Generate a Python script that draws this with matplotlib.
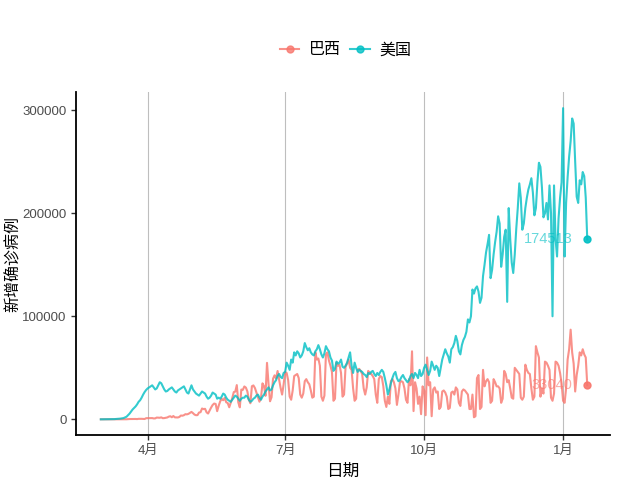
import datetime as dt
import numpy as np
import pandas as pd
import matplotlib
matplotlib.use("Agg")
import matplotlib.pyplot as plt
import matplotlib.dates as mdates
from matplotlib.lines import Line2D

plt.rcParams['font.family'] = ['Liberation Sans', 'Noto Sans CJK SC', 'DejaVu Sans']

# daily new cases, 2020-03-01 .. 2021-01-17
start_date = "2020-03-01"
countries = ["巴西", "美国"]

brazil_cases = [
    # Mar
    0, 0, 0, 0, 1, 5, 5, 6, 5, 9, 15, 25, 75, 21, 40, 60, 90, 60, 190, 280, 300,
    230, 400, 340, 230, 480, 500, 480, 350, 320, 1100,
    # Apr
    1100, 1200, 1100, 1200, 850, 900, 1700, 1600, 1500, 1900, 1100, 1200, 1500, 1800, 2600,
    3000, 2000, 3200, 1900, 1900, 1800, 2300, 3700, 3500, 4000, 5000, 4800, 5300, 6300, 7200,
    # May
    6000, 4600, 4000, 4100, 6600, 6900, 10500, 9900, 10200, 6800, 5600, 8600, 11400, 13900, 15300,
    14900, 7900, 13100, 17400, 19900, 18500, 20800, 16500, 15800, 11700, 16300, 20600, 26400,
    26900, 33200, 16400,
    # Jun
    11600, 28900, 28600, 31900, 30800, 27100, 18900, 15600, 32100, 32900, 30400, 25900, 21700,
    17100, 20600, 34900, 32200, 22800, 54800, 34700, 17500, 21400, 39400, 42700, 39500, 46900,
    38700, 30500, 24000, 33800,
    # Jul
    46000, 45000, 38000, 22000, 19000, 28000, 42000, 43000, 44000, 40000, 24000, 21000, 25000,
    37000, 39000, 36000, 34000, 28000, 21000, 22000, 65000, 58000, 59000, 52000, 22000, 18000,
    23000, 63000, 65000, 57000, 52000,
    # Aug
    46000, 18000, 20000, 55000, 52000, 53000, 45000, 22000, 24000, 51000, 54000, 58000, 50000,
    48000, 30000, 18000, 20000, 48000, 49000, 47000, 44000, 30000, 24000, 31000, 47000, 45000,
    44000, 42000, 39000, 24000, 16000,
    # Sep
    39000, 42000, 41000, 32000, 18000, 12000, 22000, 15000, 37000, 39000, 36000, 30000, 14000,
    24000, 36000, 37000, 36000, 30000, 19000, 16000, 39000, 33000, 66000, 8000, 36000, 30000,
    15000, 22000, 5000, 32000,
    # Oct
    28000, 4000, 60000, 33000, 36000, 3000, 29000, 31000, 26000, 27000, 10000, 12000, 27000,
    28000, 26000, 22000, 10000, 11000, 26000, 27000, 24000, 31000, 29000, 16000, 13000, 27000,
    29000, 28000, 26000, 24000, 10000,
    # Nov
    10000, 24000, 2000, 3000, 40000, 43000, 10000, 12000, 48000, 32000, 37000, 39000, 36000,
    16000, 18000, 39000, 36000, 32000, 32000, 30000, 16000, 20000, 47000, 44000, 36000, 38000,
    30000, 21000, 20000, 50000,
    # Dec
    48000, 46000, 44000, 21000, 19000, 22000, 53000, 48000, 45000, 44000, 30000, 19000, 22000,
    71000, 65000, 60000, 22000, 30000, 25000, 56000, 55000, 52000, 48000, 21000, 18000, 25000,
    56000, 55000, 52000, 45000, 35000,
    # Jan
    18000, 16000, 30000, 58000, 68000, 87000, 65000, 54000, 27000, 43000, 52000, 65000, 62000,
    68000, 63000, 60000, 33040,
]

us_cases = [
    # Mar
    5, 20, 25, 30, 70, 60, 100, 120, 150, 200, 300, 400, 500, 700, 900, 1200, 1800, 2500,
    4000, 5500, 7500, 9500, 11000, 12500, 14500, 17000, 18500, 21000, 24000, 26500, 28500,
    # Apr
    30000, 31000, 32000, 33000, 31000, 29000, 30000, 33000, 36000, 35000, 32000, 29000, 27000,
    27500, 29000, 30000, 31000, 29000, 27000, 26000, 28000, 29000, 30000, 31000, 32000, 29000,
    26000, 25000, 29000, 33000,
    # May
    29000, 27000, 25000, 24000, 23000, 25000, 27000, 26000, 25000, 22000, 20000, 21000, 23000,
    26000, 25000, 24000, 20000, 21000, 20000, 22000, 25000, 24000, 21000, 19000, 18000, 17000,
    19000, 21000, 23000, 22000, 20000,
    # Jun
    18000, 20000, 21000, 21000, 23000, 22000, 19000, 17000, 18000, 20000, 21000, 23000, 24000,
    21000, 19000, 22000, 24000, 27000, 29000, 31000, 28000, 29000, 33000, 36000, 38000, 42000,
    44000, 41000, 40000, 45000,
    # Jul
    46000, 55000, 52000, 48000, 58000, 55000, 65000, 62000, 66000, 64000, 60000, 62000, 66000,
    74000, 70000, 67000, 69000, 65000, 63000, 62000, 66000, 68000, 72000, 68000, 63000, 60000,
    64000, 71000, 68000, 66000, 60000,
    # Aug
    57000, 47000, 49000, 56000, 54000, 55000, 58000, 51000, 50000, 52000, 55000, 60000, 65000,
    52000, 45000, 55000, 50000, 46000, 48000, 47000, 46000, 44000, 43000, 41000, 45000, 44000,
    46000, 47000, 44000, 42000, 45000,
    # Sep
    43000, 46000, 48000, 46000, 40000, 33000, 24000, 29000, 35000, 40000, 44000, 46000, 40000,
    37000, 38000, 41000, 43000, 40000, 38000, 36000, 38000, 42000, 44000, 40000, 45000, 43000,
    40000, 48000, 42000, 44000,
    # Oct
    50000, 53000, 48000, 43000, 47000, 56000, 52000, 48000, 52000, 50000, 42000, 50000, 58000,
    63000, 68000, 64000, 61000, 55000, 68000, 70000, 74000, 81000, 76000, 66000, 63000, 72000,
    77000, 80000, 85000, 97000, 94000,
    # Nov
    100000, 126000, 122000, 127000, 129000, 124000, 113000, 118000, 139000, 150000, 162000,
    170000, 179000, 137000, 145000, 160000, 172000, 182000, 197000, 190000, 148000, 160000,
    177000, 184000, 114000, 205000, 175000, 152000, 142000, 160000,
    # Dec
    185000, 205000, 229000, 215000, 184000, 190000, 205000, 215000, 223000, 228000, 234000,
    220000, 198000, 205000, 230000, 249000, 245000, 225000, 196000, 200000, 210000, 194000,
    227000, 200000, 100000, 227000, 175000, 158000, 195000, 215000, 230000,
    # Jan
    302000, 158000, 210000, 235000, 255000, 270000, 292000, 287000, 250000, 216000, 210000,
    232000, 228000, 240000, 236000, 215000, 174513,
]

colors = ["#F8766D", "#00BFC4"]
dates = pd.date_range(start_date, periods=len(us_cases), freq="D")

fig = plt.figure(figsize=(6.4, 4.8), dpi=100)
ax = fig.add_axes([0.119, 0.094, 0.834, 0.714])

for name, vals, col in zip(countries, [brazil_cases, us_cases], colors):
    ax.plot(dates, vals, color=col, lw=1.5, alpha=0.8)
    ax.plot(dates[-1], vals[-1], 'o', color=col, ms=5, alpha=0.9)
    ax.annotate(str(vals[-1]), (dates[-1], vals[-1]), xytext=(-10.5, 0),
                textcoords='offset points', ha='right', va='center',
                color=col, alpha=0.6, fontsize=10.5)

ax.set_xlim(dt.datetime(2020, 2, 13, 16), dt.datetime(2021, 2, 1))
ax.set_ylim(-15100, 317500)
ax.xaxis.set_major_locator(mdates.MonthLocator(bymonth=[1, 4, 7, 10]))
ax.xaxis.set_major_formatter(mdates.DateFormatter('%-m月'))
ax.set_yticks([0, 100000, 200000, 300000])
ax.grid(axis='x', color='#BEBEBE', lw=0.8)
ax.set_axisbelow(True)

for s in ['top', 'right']:
    ax.spines[s].set_visible(False)
for s in ['left', 'bottom']:
    ax.spines[s].set_linewidth(1.3)
ax.tick_params(axis='both', colors='#333333', labelcolor='#4D4D4D', labelsize=9.5, length=3.5, width=1)

ax.set_xlabel('日期', fontsize=12, labelpad=5)
ax.set_ylabel('新增确诊病例', fontsize=11.5, labelpad=1)

handles = [Line2D([], [], color=c, lw=1.5, marker='o', ms=5, alpha=0.8) for c in colors]
fig.legend(handles, countries, loc='center', bbox_to_anchor=(0.54, 0.896), ncol=2,
           frameon=False, fontsize=11.5, handlelength=1.2, handletextpad=0.6, columnspacing=0.6)

fig.savefig('out.png', dpi=100)
